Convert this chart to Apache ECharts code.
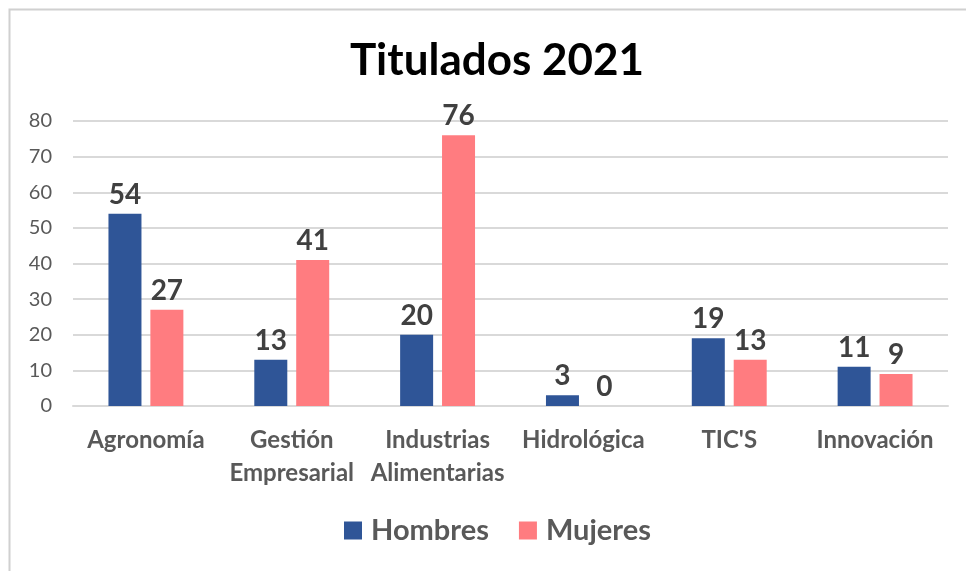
<!DOCTYPE html>
<html style="height: 100%" lang="es">

<head>
  <meta charset="utf-8">
  <script type="text/javascript" src="https://cdn.jsdelivr.net/npm/echarts@6/dist/echarts.min.js"></script>
</head>

<body style="height: 100%; margin: 0; background: #fff">
  <div id="container" style="width: 966px; height: 571px"></div>
  <script type="text/javascript">
    var categorias = ['Agronomía', 'Gestión\nEmpresarial', 'Industrias\nAlimentarias', 'Hidrológica', "TIC'S", 'Innovación'];
    var hombres = [54, 13, 20, 3, 19, 11];
    var mujeres = [27, 41, 76, 0, 13, 9];
    var yTicks = [0, 10, 20, 30, 40, 50, 60, 70, 80];

    var myChart = echarts.init(document.getElementById('container'));
    var fuente = 'Lato, "Open Sans", sans-serif';

    var etiqueta = {
      show: true,
      position: 'top',
      distance: 5,
      fontFamily: fuente,
      fontWeight: 'bold',
      fontSize: 28,
      color: '#404040'
    };

    option = {
      animation: false,
      title: {
        text: 'Titulados 2021',
        left: 492,
        textAlign: 'center',
        top: 34,
        textStyle: {
          fontFamily: fuente,
          fontWeight: 'bold',
          fontSize: 44,
          color: '#000'
        }
      },
      graphic: [{
        type: 'polyline',
        shape: { points: [[9.5, 571], [9.5, 9.5], [966, 9.5]] },
        style: { stroke: '#d0d0d0', lineWidth: 2, fill: null }
      }],
      legend: {
        bottom: 21,
        left: 339,
        itemWidth: 18,
        itemHeight: 18,
        itemGap: 30,
        icon: 'rect',
        textStyle: {
          fontFamily: fuente,
          fontWeight: 'bold',
          fontSize: 29,
          color: '#595959',
          padding: [0, 0, 0, 4]
        },
        data: ['Hombres', 'Mujeres']
      },
      grid: {
        left: 73,
        right: 18,
        top: 121,
        bottom: 165
      },
      xAxis: {
        type: 'category',
        data: categorias,
        axisLine: { lineStyle: { color: '#d9d9d9', width: 2 } },
        axisTick: { show: false },
        axisLabel: {
          margin: 18,
          interval: 0,
          fontFamily: fuente,
          fontWeight: 'bold',
          fontSize: 24,
          lineHeight: 33,
          color: '#595959'
        }
      },
      yAxis: {
        type: 'value',
        min: yTicks[0],
        max: yTicks[yTicks.length - 1],
        interval: yTicks[1] - yTicks[0],
        axisLine: { show: false },
        axisTick: { show: false },
        splitLine: { lineStyle: { color: '#d9d9d9', width: 2 } },
        axisLabel: {
          margin: 21,
          fontFamily: fuente,
          fontSize: 20,
          color: '#595959'
        }
      },
      series: [{
        name: 'Hombres',
        type: 'bar',
        data: hombres,
        barWidth: 33,
        barGap: '27%',
        itemStyle: { color: '#2F5597' },
        label: etiqueta
      }, {
        name: 'Mujeres',
        type: 'bar',
        data: mujeres,
        barWidth: 33,
        itemStyle: { color: '#FF7C80' },
        label: etiqueta
      }]
    };

    myChart.setOption(option);
  </script>
</body>

</html>
